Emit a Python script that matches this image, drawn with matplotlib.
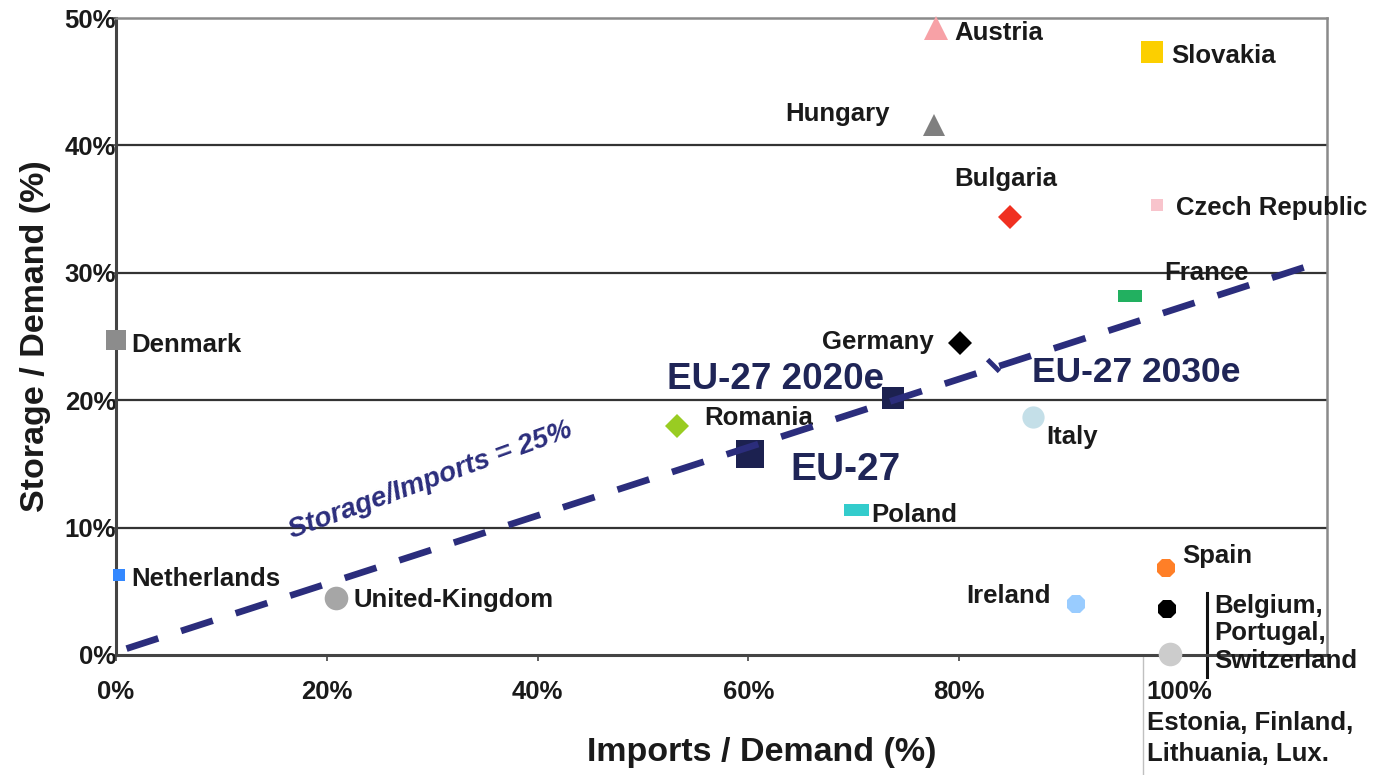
import matplotlib; matplotlib.use("Agg")
import matplotlib.pyplot as plt
from matplotlib.transforms import blended_transform_factory

plt.rcParams['font.family'] = ['Liberation Sans', 'DejaVu Sans']

# 各國 (Imports/Demand, Storage/Demand)
names   = ["Austria", "Slovakia", "Hungary", "Bulgaria", "Czech Republic", "France",
           "Denmark", "Germany", "EU-27 2020e", "EU-27 2030e", "Romania", "EU-27",
           "Italy", "Poland", "Netherlands", "United-Kingdom", "Ireland", "Spain",
           "Belgium", "Switzerland"]
imports = [0.778, 0.983, 0.776, 0.848, 0.988, 0.962, 0.000, 0.801, 0.737, 0.832,
           0.532, 0.602, 0.870, 0.702, 0.003, 0.209, 0.911, 0.996, 0.997, 1.000]
storage = [0.492, 0.473, 0.416, 0.344, 0.353, 0.282, 0.247, 0.245, 0.202, 0.228,
           0.180, 0.158, 0.187, 0.114, 0.063, 0.045, 0.040, 0.068, 0.036, 0.001]

line_x = [0.01, 1.13]
line_y = [0.005, 0.305]

xticks = [0, 0.2, 0.4, 0.6, 0.8, 1.0]
xtick_labels = ["0%", "20%", "40%", "60%", "80%", ""]
yticks = [0, 0.1, 0.2, 0.3, 0.4, 0.5]
ytick_labels = ["0%", "10%", "20%", "30%", "40%", "50%"]

rect_w = [(-1, -0.5), (1, -0.5), (1, 0.5), (-1, 0.5), (-1, -0.5)]
style = {
    "Austria":        dict(marker='^', ms=17, c='#f7a1a6'),
    "Slovakia":       dict(marker='s', ms=16, c='#fccf00'),
    "Hungary":        dict(marker='^', ms=16, c='#7f7f7f'),
    "Bulgaria":       dict(marker='D', ms=12, c='#f03020'),
    "Czech Republic": dict(marker='s', ms=9,  c='#f8c4cc'),
    "France":         dict(marker=rect_w, ms=17, c='#22b060'),
    "Denmark":        dict(marker='s', ms=15, c='#8c8c8c'),
    "Germany":        dict(marker='D', ms=12, c='#000000'),
    "EU-27 2020e":    dict(marker='s', ms=16, c='#1c2150'),
    "EU-27 2030e":    dict(marker=(2, 0, 45), ms=12, c='#2b2d7c'),
    "Romania":        dict(marker='D', ms=12, c='#99cc22'),
    "EU-27":          dict(marker='s', ms=20, c='#1c2150'),
    "Italy":          dict(marker='o', ms=16, c='#c4dfe8'),
    "Poland":         dict(marker=rect_w, ms=18, c='#33cccc'),
    "Netherlands":    dict(marker='s', ms=9,  c='#3388ff'),
    "United-Kingdom": dict(marker='o', ms=17, c='#a6a6a6'),
    "Ireland":        dict(marker='8', ms=14, c='#99ccff'),
    "Spain":          dict(marker='8', ms=14, c='#ff7f27'),
    "Belgium":        dict(marker='8', ms=14, c='#000000'),
    "Switzerland":    dict(marker='o', ms=17, c='#cccccc'),
}

# 標籤: (x, y, ha, 大小, 顏色)
TXT = '#1a1a1a'; NAVY = '#1f2557'
FS = 18.5
labels = [
    ("Austria",        0.795, 0.488, 'left', FS, TXT),
    ("Slovakia",       1.001, 0.470, 'left', FS, TXT),
    ("Hungary",        0.734, 0.425, 'right', FS, TXT),
    ("Bulgaria",       0.795, 0.374, 'left', FS, TXT),
    ("Czech Republic", 1.006, 0.351, 'left', FS, TXT),
    ("France",         0.995, 0.300, 'left', FS, TXT),
    ("Denmark",        0.014, 0.243, 'left', FS, TXT),
    ("Germany",        0.776, 0.246, 'right', FS, TXT),
    ("EU-27 2020e",    0.523, 0.216, 'left', 26.5, NAVY),
    ("EU-27 2030e",    0.869, 0.222, 'left', 25.5, NAVY),
    ("Romania",        0.558, 0.186, 'left', FS, TXT),
    ("EU-27",          0.640, 0.145, 'left', 28, NAVY),
    ("Italy",          0.883, 0.171, 'left', FS, TXT),
    ("Poland",         0.717, 0.110, 'left', FS, TXT),
    ("Netherlands",    0.014, 0.060, 'left', FS, TXT),
    ("United-Kingdom", 0.225, 0.043, 'left', FS, TXT),
    ("Ireland",        0.887, 0.046, 'right', FS, TXT),
    ("Spain",          1.012, 0.078, 'left', FS, TXT),
    ("Belgium,\nPortugal,\nSwitzerland", 1.042, 0.017, 'left', FS, TXT),
]

fig = plt.figure(figsize=(13.74, 7.75), dpi=100)
ax = fig.add_axes([116/1374, 1-655/775, (1327-116)/1374, (655-18)/775])
ax.set_xlim(0, 1.149); ax.set_ylim(0, 0.5)

for yv in yticks[1:-1]:
    ax.axhline(yv, color='#333333', lw=1.6, zorder=1)
for sp in ['left', 'bottom']:
    ax.spines[sp].set_color('#444444'); ax.spines[sp].set_linewidth(2.2)
for sp in ['top', 'right']:
    ax.spines[sp].set_color('#8a8a8a'); ax.spines[sp].set_linewidth(1.8)

ax.set_xticks(xticks); ax.set_xticklabels(xtick_labels)
ax.set_yticks(yticks); ax.set_yticklabels(ytick_labels)
ax.tick_params(axis='x', length=4, width=1.2, color='#444444', pad=14, labelsize=FS)
ax.tick_params(axis='y', length=3, width=1.2, color='#444444', pad=-3, labelsize=FS)
for t in ax.get_xticklabels() + ax.get_yticklabels():
    t.set_fontweight('bold'); t.set_color(TXT)

for n, x, y in zip(names, imports, storage):
    st = style[n]
    mew = 3.5 if n == "EU-27 2030e" else 0
    ax.plot(x, y, linestyle='none', marker=st['marker'], ms=st['ms'], color=st['c'],
            mec=st['c'], mew=mew, zorder=3, clip_on=False)

for s, x, y, ha, fs, col in labels:
    ax.text(x, y, s, ha=ha, va='center', fontsize=fs, fontweight='bold', color=col,
            linespacing=1.2, zorder=4, clip_on=False)

ax.plot(line_x, line_y, color='#2b2d7c', lw=4.8, dashes=(5, 3.6), zorder=5,
        solid_capstyle='butt', dash_capstyle='butt')
ax.text(0.298, 0.137, "Storage/Imports = 25%", rotation=20, ha='center', va='center',
        fontsize=20, fontweight='bold', fontstyle='italic', color='#2b2d7c', zorder=5)

# 100% 與無儲氣國家註記
tr = blended_transform_factory(ax.transData, ax.transAxes)
ax.plot([0.974, 0.974], [0, -0.2], color='#c0c0c0', lw=1, transform=tr, clip_on=False)
ax.plot([1.035, 1.035], [0.049, -0.017], color='#111111', lw=2.2, clip_on=False)
ax.text(0.978, -0.04, "100%\nEstonia, Finland,\nLithuania, Lux.", transform=tr,
        ha='left', va='top', fontsize=FS, fontweight='bold', color=TXT, linespacing=1.35)

ax.set_ylabel("Storage / Demand (%)", fontsize=24.5, fontweight='bold', color=TXT)
ax.yaxis.set_label_coords(-0.054, 0.5)
fig.text(762/1374, 1-752/775, "Imports / Demand (%)", ha='center', va='center',
         fontsize=24.5, fontweight='bold', color=TXT)

fig.savefig("out.png", dpi=100, facecolor='white')
